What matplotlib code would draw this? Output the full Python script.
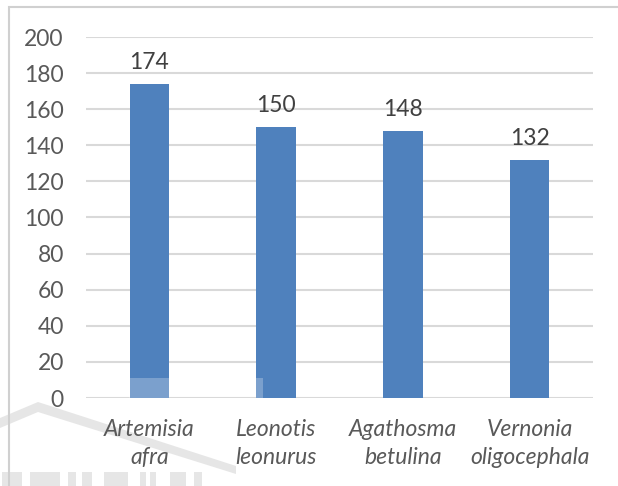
import matplotlib

matplotlib.use("Agg")
import matplotlib.pyplot as plt
from matplotlib.patches import Rectangle, Polygon

# ---- data ----------------------------------------------------------
species = ["Artemisia\nafra", "Leonotis\nleonurus", "Agathosma\nbetulina", "Vernonia\noligocephala"]
counts = [174, 150, 148, 132]
yticks = [0, 20, 40, 60, 80, 100, 120, 140, 160, 180, 200]

BAR = "#4F81BD"
GRID = "#D9D9D9"
TXT = "#595959"
FS = 16.5

plt.rcParams["font.family"] = ["Lato", "DejaVu Sans"]

W, H = 618, 486
fig = plt.figure(figsize=(W / 100, H / 100), dpi=100)
ax = fig.add_axes([86 / W, 1 - 398 / H, (593 - 86) / W, (398 - 37) / H])

x = range(len(species))
bars = ax.bar(x, counts, width=0.31, color=BAR, zorder=3)
for b, v in zip(bars, counts):
    ax.annotate(str(v), (b.get_x() + b.get_width() / 2, v), xytext=(0, 8),
                textcoords="offset points", ha="center", va="bottom",
                fontsize=FS, color="#404040")

ax.set_xlim(-0.5, len(species) - 0.5)
ax.set_ylim(0, 200)
ax.set_yticks(yticks)
ax.set_xticks(list(x))
ax.set_xticklabels(species, fontstyle="italic", fontsize=FS, color=TXT,
                   linespacing=1.4)
ax.tick_params(axis="y", length=0, pad=16, labelsize=FS, labelcolor=TXT)
ax.tick_params(axis="x", length=0, pad=15)
ax.yaxis.grid(True, color=GRID, lw=1.5, zorder=0)
for s in ax.spines.values():
    s.set_visible(False)

# chart-area border (cropped at right and bottom)
fig.add_artist(Rectangle((9 / W, -0.1), 1.1, 1.1 - 7 / H,
                         transform=fig.transFigure, fill=False,
                         ec="#D0D0D0", lw=1.5))

# faint watermark building at the bottom left
roof = [(0, 418), (38, 402), (236, 466), (236, 474), (38, 412), (0, 428)]
fig.add_artist(Polygon([(px / W, 1 - py / H) for px, py in roof],
                       transform=fig.transFigure, fc="#C8C8C8", ec="none",
                       alpha=0.45, zorder=0))
for x0, x1 in [(2, 22), (30, 60), (68, 76), (82, 92), (104, 128), (140, 146),
               (150, 156), (170, 186), (194, 202)]:
    fig.add_artist(Rectangle((x0 / W, 0), (x1 - x0) / W, 14 / H,
                             transform=fig.transFigure, fc="#C8C8C8",
                             ec="none", alpha=0.45, zorder=0))
fig.add_artist(Rectangle((129 / W, 1 - 398 / H), 40 / W, 20 / H,
                         transform=fig.transFigure, fc="white", ec="none",
                         alpha=0.25, zorder=5))
fig.add_artist(Rectangle((256 / W, 1 - 398 / H), 7 / W, 20 / H,
                         transform=fig.transFigure, fc="white", ec="none",
                         alpha=0.25, zorder=5))

fig.savefig("out.png", dpi=100)
